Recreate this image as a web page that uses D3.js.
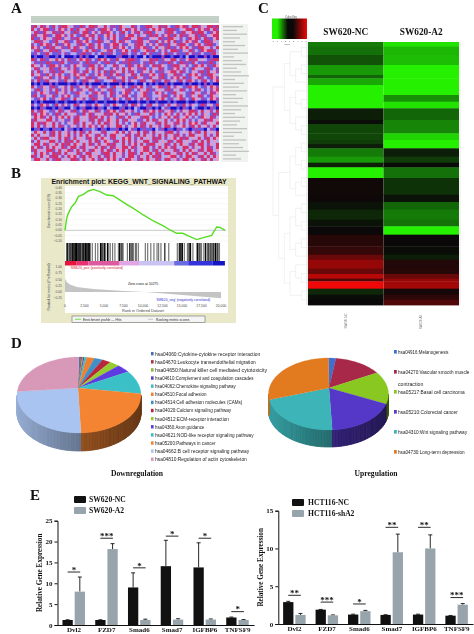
<!DOCTYPE html>
<html><head><meta charset="utf-8">
<script src="https://cdn.jsdelivr.net/npm/d3@7"></script>
<style>html,body{margin:0;padding:0;background:#fff}svg{display:block;filter:blur(.45px)}</style>
</head><body><svg id="c" width="474" height="634"></svg>
<script>
// ---------- Panel A: expression grid, read by eye (r red, p pink, m magenta, l lavender, b blue, d deep blue)
const heatRows = [
"mrlrmpbrlmrrplmbrmlrrmplrlmmbrpllrmlbmrrplrmrlbmrprmlrrmplrrmr",
"rlmprrbmlrpmlrbrlprmmlbrrpmlbrlrmprlmbmlrprlmrrmblprrmlrpmrlrm",
"lrmbrplrmmrlpbrmlrrbpmlrmrpblmrlbpmrlmrrbpllmrrlbmrlprmrrlbmpr",
"mrlprmblrrpmlrlbmrpmrlmbprlrlmbprrlmlpbrmrlmprbrlrmmplrbrmlprr",
"rbmlrplmrrbplmmrlbrpmlrblmprlbmrmplrrbmlplrmbrrplmlbrprmlrmbpr",
"lrrmplbmrlprmblrmprlbmrmlpbrlrmplbmrrlpmbrlmprlrbmlrpmrlbrrmpl",
"mlbrprmlrbmprllmrbprmlrlbmprrlmbplmrrlbpmlrmbrlpmrrlbmprlmrrbl",
"rpmlbrmrlpmbrlrmplbrmlrpbmlrmprlblmrprmblrlpmrbmlrprlmbrrplmlr",
"lmrbplrmrbpllmrmbprlrmblpmrlbmprlmrblprmrlbpmlrrmbplrmlbrprrml",
"bmlbmrlbbmlmbllbmrbmlblrbmmlbbrmlbmlbrlmbbmlrbmlmbbrlmbmlbbmrl",
"dbddbmddbdldddbdmdbddlddbdddbmddbdbddldbdddmddbddbdlddbddmdbdd",
"rmlrmbplrpmlrbmlrprmlbrprlmbrlpmrrmblplrmrbmplrrlmbprmrlplbmrr",
"lmbmbrmbbmrlbmbmlbrmbmlbmrbmlbmmrbmblmbrmlbmbrmlbrmmbrlbmbmrbl",
"rplmlbrrpmlbmlrplmbrrlmpbllrmplbrmlrpmblrmrplbmrrlpmlbrprlmbrp",
"lrmlplrmbrlpmlrbllmprlrmllbpmlrlrplmmrlbplrmlbmprlmlbrpllmrblm",
"mlrbplmrbmrllprmlmrlbpmlrbrmplrlmrlbmplrlbmmlprrlrmlbplmrbrlpm",
"rlpmbrlmprlbmlrpmrlbmlrpmbrlrmbplrmlrbmprlmrbplrmmlbrprlmbrrpl",
"lbrmplrblmprmlbrlpmrbmlplrbmlprlmbrplmbrlpmrblmprlrbmlprmlbrpm",
"mlrbmrlplmbrlpmlbrmplrmbllprmbrlmplbrmlprbmlrmlpbrlmrpblmrlbpr",
"dbdbddmdbdddbddbdmdbdddbdbdddmdbddbddldbdbddmdbdddbdbddbdmdbdd",
"rlbmplmrblpmlrbmplrlmbprmlbrlpmlbrmprlbmlprmbrlmplbmrprlbmlrpm",
"lmrbplmlrbpmlrlbmplrmlbplmrbllpmrblmplrbmlplmrbplrmlbpmrlblmpr",
"bmlrplmbrlpmlbmrplblmrpmblrmlbprmlblprmblrpmlbmrlplbmrlpbmlrmp",
"mrlbmplrblmprlbmlplrmbplmlrblpmrlbmlprmbllpmrblmprlbmplrmlbrpl",
"lbmprlbmlprmblrlpmlbrmplbmlrpblmrlbpmlrblmprlbmlprmlbrplmblrpm",
"dbdbddddbddbdddbdbdddbddbdddbddbdddbddbddbdddbdbdddbddbdddbddb",
"mlbrpmlbrlmpblrmlpbmlrplbmlrplbmlrmpblmrlpbmlrlpmbrlmplbrmlpbr",
"dbdmbddbdmbddlbdbmddbdmbdlbddbmdbdlbddmbdbdlmbddbdmbdlbddbdmbd",
"rlmrplbmlrmlpmrblrmplrmlbrprlmrlpmlblrmprlrmlprblmplrrmlrlpmlr",
"mrlrpmlbrmlrlplmbrlrmlplrmrlrlpmlbmrlplrmlblrpmlrlmprlrlmplbrm",
"lrprmlrlmprlrlmrlplrmrlrlmplbrmlrlplmrrlblmplrlrmlprlmlbrplrml",
"mrlplrrlmlpbmlrrlplmrlrmlrplrlmrlplbmlrlrmplrlmlrprlmlbplrmrlp",
"rlrmrplrlmlbplrmlrlpmlrlrmplrlmlbprlmrlplmrlrlpmrlmlrprlmrlplr",
"rlrlmplrlrmlbplmlrlrpmlrlmplrrlmlprlrmlrlpmlrrlmlprlmrlrlpmlrl",
"dbmdbbdmbbdlmbdbdmbblbdmbdbbmdbdlmbdbmbbdlbmdbbdmblbdbmbbdlmbd",
"lrplrlmrlrlpmlrlrmlrlplmrllprlrlmplrlrmlrlplmrrlmlplrlmrlrlplr",
"rlrlplmrlrlprlmlrlrplmrlmlrrlplmrlmrlrlpmlrlrlpmrlmlrrlplrlmlr",
"lrlmrrlplrlrmlrlplmrlrlrplmrllrprlmlrlplrmrlmlprlrmrlplrlmrlrp",
"mlrlplrrlmlrmrlrlplrlrmlrplmrlrlrlmplrrlmrlplrmlrrlplmrlrlrlpl",
"lrrlrmplrlrmrlrplrlrmlrlprmrllrlmprlrlmrrlplrmlrlrplmrlrrlmplr",
"rlrmlrlrplrmlrrlmrlplrlrmlrmplrrlrmlprrlmlrlrpmrllrrlmplrlrmlr",
"mrlplrrmlrlprmlrlrlmrplrlrmlrprlrlmlprrlmrlrlplrmlrlrplmrlrrlp",
"lrlrpmlrmrlrlplrmlrrlplmrrlrlpmlrrmlrlprlrmlrrlpmrlrlrmplrlrml",
"rmlrlpmrrlmlrprlmrlrplrlmrlrplmlrrlmplrlrmrllprrlmlrrplmrlrlrp",
"lrrplrlmrrlplrrmlrlprlmrlrprlmlrrplmrlrplrmlrrlpmlrrlrlpmrlrlp"];
const heatColors = {r:"#d82f66",p:"#e79ac2",m:"#a545b2",l:"#b2aaf2",b:"#6a5ae4",d:"#1408c4"};
const geneLabelWidths = [20,14,24,17,12,22,15,25,11,19,23,14,18,26,12,21,16,24,13,20,15,25,18,12,22,17,14,24,19,11,23,16,20,26,13,18];

// ---------- Panel B: GSEA enrichment plot
const esRank = [0,214,427,855,1282,1710,2350,2992,3633,4488,5342,6197,7052,7907,8762,10044,11326,12608,13463,14318,15087,15814,16882,17737,18805,19446,19874,20515];
const esValue = [0,.1125,.159,.222,.253,.316,.3375,.369,.384,.3625,.331,.325,.284,.244,.206,.144,.0875,.041,.003,-.028,-.028,-.053,-.0875,-.069,-.047,.031,.028,0];
const hitsDark = [300,520,760,980,1150,1330,1480,1530,1780,1950,2200,2400,2620,2800,2980,3120,4550,4750,5050,5450,7000,7300,8300,8600,9100,12800,14650,14850,15050,15900,16100,17000,17300,18000,18350,18700,19000,19300,19600];
const hitsLight = [200,640,880,1060,1240,1420,1620,1700,1860,2050,2300,2500,2720,2900,3050,3250,3500,3900,4200,4650,4900,5200,5600,5800,6100,6400,6850,7150,7450,8000,8450,8800,9400,10300,10600,11000,11400,11800,12000,12300,13300,14400,14750,14950,15300,15700,16000,16400,16900,17150,17500,17800,18200,18500,18850,19150,19450,19800];
const bandEnd = [1500,3000,7000,9500,14000,15800,18900,20500];
const bandColor = ["#e8143c","#e83272","#dd5aa0","#e2a6e6","#c9c4f2","#6a6ae2","#3434da","#1616c8"];
const metricRank = [0,214,641,1496,3633,7052,10275,15087,20000];
const metricValue = [.55,.4,.3,.2,.12,.05,0,-.12,-.25];
const esTicks = [.4,.35,.3,.25,.2,.15,.1,.05,0,-.05,-.1];
const metricTicks = [1,.75,.5,.25,0,-.25];
const rankTicks = [0,2500,5000,7500,10000,12500,15000,17500,20000];

// ---------- Panel C: clustered fold-change heat map (row counts per cluster and values)
const clusterRows = [14,25,30,30,10,20,30,20,20,35,12,28,20,12,13,25,18,14,32,50,22,23,30,20,25,35,25,15,27,16,14,8,22,18,15,16];
const valuesNC = [-.55,-.5,-.35,-.7,-.45,-.75,-1,-1,-1,-.1,-.03,-.3,-.3,-.25,-.1,-.55,-.7,-.12,-1,.03,.02,-.05,-.15,-.05,0,.12,.18,.4,.6,.4,.75,.3,1,-.15,-.02,0];
const valuesA2 = [-.95,-.8,-.82,-1,-1,-1,-1,-.65,-.95,-.45,-.6,-.6,-.9,-1,-1,-.1,-.25,-.02,-.5,-.2,-.05,-.45,-.55,-.5,-1,0,-.02,-.1,.1,.12,.4,.6,.65,.05,.15,.3];
const heatColumns = ["SW620-NC","SW620-A2"];
const keyTicks = ["-8","-6","-4","-2","0","2","4","6","8"];
const dendro = [[[["a","b"],[["c","d"],"e"]],[["f",["g","h"]],["i",["j","k"]]]],[[[["l","m"],["n","o"]],[["p","q"],"r"]],[[[["s","t"],["u","v"]],[["w","x"],"y"]],[["z",["aa","ab"]],["ac","ad"]]]]];

// ---------- Panel D: pathway shares
const downLabels = ["hsa04060:Cytokine-cytokine receptor interaction","hsa04670:Leukocyte transendothelial migration","hsa04650:Natural killer cell mediated cytotoxicity","hsa04610:Complement and coagulation cascades","hsa04062:Chemokine signaling pathway","hsa04510:Focal adhesion","hsa04514:Cell adhesion molecules (CAMs)","hsa04020:Calcium signaling pathway","hsa04512:ECM-receptor interaction","hsa04360:Axon guidance","hsa04621:NOD-like receptor signaling pathway","hsa05200:Pathways in cancer","hsa04662:B cell receptor signaling pathway","hsa04810:Regulation of actin cytoskeleton"];
const downValues = [.5,.3,.3,.3,.6,2,2.2,2.2,2.6,3.5,10,25,27,23.5];
const downColors = ["#4a70b4","#a8343c","#8ab83a","#5a3cc0","#3cbcc8","#ee8030","#3f8fc8","#b8283c","#96cc30","#5e3ce0","#3cc0c8","#f58432","#a9c4f0","#d899b9"];
const upLabels = ["hsa04916:Melanogenesis","hsa04270:Vascular smooth muscle","contraction","hsa05217:Basal cell carcinoma","hsa05210:Colorectal cancer","hsa04310:Wnt signaling pathway","hsa04730:Long-term depression"];
const upValues = [2,13,14.5,19.5,23.5,27.5];
const upColors = ["#3f6fd0","#a8284a","#88c820","#5538c8","#3cb4b8","#e27a20"];

// ---------- Panel E: qPCR bars
const genes = ["Dvl2","FZD7","Smad6","Smad7","IGFBP6","TNFSF9"];
const swNC = [1.2,1.2,9,14.1,13.8,1.8];
const swA2 = [8,18.2,1.2,1.3,1.3,1.2];
const swNCerr = [.05,.05,3.5,6.2,5.9,.1];
const swA2err = [3.5,1.3,.2,.2,.15,.1];
const swSig = ["*","***","*","*","*","*"];
const swSigLevel = [12.7,20.8,13.7,21.3,20.8,3.2];
const hctNC = [2.9,1.9,1.25,1.2,1.25,1.1];
const hctA2 = [1.2,1.15,1.7,9.5,10,2.55];
const hctNCerr = [.1,.03,.05,.03,.05,.03];
const hctA2err = [.2,.05,.1,2.4,1.8,.15];
const hctSig = ["**","***","*","**","**","***"];
const hctSigLevel = [3.8,2.9,2.65,12.8,12.8,3.5];

const SERIF = "'Liberation Serif',serif", SANS = "'Liberation Sans',sans-serif";
const svg = d3.select("#c");
const defs = svg.append("defs");
defs.append("filter").attr("id","soft").attr("x","-2%").attr("y","-2%").attr("width","104%").attr("height","104%")
  .append("feGaussianBlur").attr("stdDeviation",.45);
const txt = (g,x,y,s,size,o={}) => g.append("text").attr("x",x).attr("y",y).text(s)
  .attr("font-family",o.family||SANS).attr("font-size",size).attr("font-weight",o.weight||"normal")
  .attr("fill",o.fill||"#111").attr("text-anchor",o.anchor||"start")
  .attr("transform",o.rot?`rotate(${o.rot} ${x} ${y})`:null);

[["A",11,13],["B",11,178],["C",258,13],["D",11,348],["E",30,500]].forEach(d=>
  txt(svg,d[1],d[2],d[0],15,{family:SERIF,weight:"bold"}));

// ===== A =====
(function(){
  const g = svg.append("g");
  g.append("rect").attr("x",31).attr("y",16).attr("width",188).attr("height",7).attr("fill","#c3d0c6");
  const xs = d3.scaleBand().domain(d3.range(62)).range([31,219]);
  const ys = d3.scaleBand().domain(d3.range(heatRows.length)).range([25,161]);
  const clip = defs.append("clipPath").attr("id","aclip");
  clip.append("rect").attr("x",31).attr("y",25).attr("width",188).attr("height",136);
  const h = g.append("g").attr("clip-path","url(#aclip)").append("g").attr("filter","url(#soft)");
  h.append("rect").attr("x",29).attr("y",23).attr("width",192).attr("height",140).attr("fill","#a070d0");
  heatRows.forEach((row,i)=>{
    h.selectAll(null).data(row.split("")).join("rect")
      .attr("x",(d,j)=>xs(j)).attr("y",ys(i)).attr("width",xs.bandwidth()+.3).attr("height",ys.bandwidth()+.3)
      .attr("fill",d=>heatColors[d]);
  });
  g.append("rect").attr("x",221).attr("y",24).attr("width",27).attr("height",138).attr("fill","#f0f3f0");
  const yl = d3.scaleBand().domain(d3.range(geneLabelWidths.length)).range([25,161]);
  g.selectAll(null).data(geneLabelWidths).join("rect")
    .attr("x",223).attr("y",(d,i)=>yl(i)+1).attr("width",d=>d).attr("height",1.3).attr("fill","#c0c4c0");
})();

// ===== B =====
(function(){
  const g = svg.append("g");
  g.append("rect").attr("x",41).attr("y",178).attr("width",195).attr("height",145).attr("fill","#e9e9c9");
  g.append("rect").attr("x",65).attr("y",186).attr("width",163).attr("height",127).attr("fill","#fff");
  txt(g,139,184.3,"Enrichment plot: KEGG_WNT_SIGNALING_PATHWAY",6.9,{weight:"bold",anchor:"middle"});
  const x = d3.scaleLinear().domain([0,20000]).range([65,221]);
  const yE = d3.scaleLinear().domain([0,.4]).range([230.3,187.7]);
  const yM = d3.scaleLinear().domain([0,1]).range([292,267.3]);
  esTicks.forEach(t=>{
    g.append("line").attr("x1",65).attr("x2",228).attr("y1",yE(t)).attr("y2",yE(t)).attr("stroke","#f0f0f0").attr("stroke-width",.5);
    txt(g,62,yE(t)+1,d3.format(".2f")(t),3.4,{anchor:"end",fill:"#555"});
  });
  metricTicks.forEach(t=>txt(g,62,yM(t)+1,d3.format(".2f")(t),3.4,{anchor:"end",fill:"#555"}));
  g.append("line").attr("x1",65).attr("x2",226).attr("y1",yE(0)).attr("y2",yE(0)).attr("stroke","#aaa").attr("stroke-width",.6);
  g.selectAll(null).data(hitsLight).join("line").attr("x1",d=>x(d)).attr("x2",d=>x(d)).attr("y1",243).attr("y2",261).attr("stroke","#777").attr("stroke-width",1.2);
  g.selectAll(null).data(hitsDark).join("line").attr("x1",d=>x(d)).attr("x2",d=>x(d)).attr("y1",243).attr("y2",261).attr("stroke","#000").attr("stroke-width",1.1);
  bandEnd.forEach((e,i)=>{
    const s = i?bandEnd[i-1]:0;
    g.append("rect").attr("x",x(s)).attr("y",261).attr("width",x(e)-x(s)).attr("height",4.5).attr("fill",bandColor[i]);
  });
  g.append("path").attr("fill","#c4c4c4").attr("d",
    d3.area().x((d,i)=>x(metricRank[i])).y0(yM(0)).y1(d=>yM(d))(metricValue));
  g.append("path").attr("fill","none").attr("stroke","#55dd22").attr("stroke-width",1.4).attr("d",
    d3.line().x((d,i)=>x(esRank[i])).y(d=>yE(d))(esValue));
  txt(g,70,269,"'SW620_pos' (positively correlated)",3.4,{fill:"#d02030"});
  txt(g,143,285,"Zero cross at 10275",3.4,{anchor:"middle"});
  txt(g,183,301,"'SW620_neg' (negatively correlated)",3.4,{anchor:"middle",fill:"#3030d0"});
  rankTicks.forEach(t=>txt(g,x(t),307,d3.format(",")(t),3.4,{anchor:"middle",fill:"#444"}));
  txt(g,143,312,"Rank in Ordered Dataset",3.8,{anchor:"middle",fill:"#444"});
  txt(g,50,211,"Enrichment score (ES)",3.4,{anchor:"middle",rot:-90,fill:"#444"});
  txt(g,50,287,"Ranked list metric (PreRanked)",3.4,{anchor:"middle",rot:-90,fill:"#444"});
  g.append("rect").attr("x",72).attr("y",316).attr("width",133).attr("height",6.5).attr("fill","#f4f4f4").attr("stroke","#555").attr("stroke-width",.5);
  g.append("line").attr("x1",75).attr("x2",81).attr("y1",319.3).attr("y2",319.3).attr("stroke","#55dd22").attr("stroke-width",.8);
  txt(g,83,320.5,"Enrichment profile — Hits",3.4,{fill:"#333"});
  g.append("line").attr("x1",148).attr("x2",153).attr("y1",319.3).attr("y2",319.3).attr("stroke","#bbb").attr("stroke-width",.8);
  txt(g,156,320.5,"Ranking metric scores",3.4,{fill:"#333"});
})();

// ===== C =====
(function(){
  const g = svg.append("g");
  const colour = d3.scaleLinear().domain([-1,-.7,0,.5,1]).range(["#24f000","#189a08","#0a0808","#800808","#f00808"]);
  const total = d3.sum(clusterRows);
  const y = d3.scaleLinear().domain([0,total]).range([42,305]);
  const x = d3.scaleBand().domain(heatColumns).range([308,459]);
  const starts = d3.cumsum([0].concat(clusterRows));
  [valuesNC,valuesA2].forEach((vals,c)=>{
    g.selectAll(null).data(vals).join("rect")
      .attr("x",x(heatColumns[c])).attr("width",x.bandwidth())
      .attr("y",(d,i)=>y(starts[i])).attr("height",(d,i)=>y(starts[i+1])-y(starts[i])+.4)
      .attr("fill",d=>colour(d));
    txt(svg,x(heatColumns[c])+x.bandwidth()/2,35,heatColumns[c],9.3,{family:SERIF,weight:"bold",anchor:"middle"});
    txt(svg,x(heatColumns[c])+x.bandwidth()/2+1,c?322:321,c?"SW620-A2":"SW620-NC",3,{anchor:"middle",rot:-90,fill:"#777"});
  });
  // key
  const grad = defs.append("linearGradient").attr("id","key");
  [["0%","#24f000"],["15%","#24f000"],["45%","#0a0808"],["60%","#0a0808"],["100%","#f00808"]].forEach(s=>
    grad.append("stop").attr("offset",s[0]).attr("stop-color",s[1]));
  g.append("rect").attr("x",272).attr("y",18.5).attr("width",35).attr("height",20.5).attr("fill","url(#key)");
  txt(g,291,17.5,"Color Key",2.6,{anchor:"middle",fill:"#444"});
  const kx = d3.scalePoint().domain(keyTicks).range([273,306]);
  keyTicks.forEach(t=>txt(g,kx(t),41.5,t,2.2,{anchor:"middle",fill:"#555"}));
  txt(g,287,44.5,"Value",2.4,{anchor:"middle",fill:"#555"});
  // dendrogram
  const root = d3.hierarchy(dendro, d=>Array.isArray(d)?d:null);
  d3.cluster().size([261,34]).separation(()=>1)(root);
  g.append("g").attr("transform","translate(273,43)").selectAll("path").data(root.links()).join("path")
    .attr("fill","none").attr("stroke","#e2e2e2").attr("stroke-width",.5)
    .attr("d",l=>`M${l.source.y},${l.source.x}V${l.target.x}H${l.target.y}`);
  g.append("line").attr("x1",307).attr("x2",307).attr("y1",42).attr("y2",305).attr("stroke","#e4e4e4").attr("stroke-width",1.2);
  g.append("line").attr("x1",460).attr("x2",460).attr("y1",42).attr("y2",305).attr("stroke","#e8e8e8").attr("stroke-width",1);
})();

// ===== D =====
function pie3d(vals,cols,cx,cy,rx,ry,ax,ay,depth){
  const g = svg.append("g");
  const arcs = d3.pie().sort(null)(vals);
  const P = t=>[cx+rx*Math.sin(t),cy-ry*Math.cos(t)];
  const steps = 120;
  d3.range(steps).forEach(i=>{
    const t0 = Math.PI/2+Math.PI*i/steps, t1 = Math.PI/2+Math.PI*(i+1)/steps;
    const a = arcs.find(s=>t0>=s.startAngle && t0<s.endAngle) || arcs[arcs.length-1];
    const k = (Math.sin(t0)+1)/2;
    const p0=P(t0), p1=P(t1);
    const c = d3.color(cols[a.index]).darker(.35+2.1*k).formatHex();
    g.append("path").attr("fill",c).attr("stroke",c).attr("stroke-width",.8)
      .attr("d",d3.line()([p0,p1,[p1[0],p1[1]+depth],[p0[0],p0[1]+depth]])+"Z");
  });
  g.selectAll(null).data(arcs).join("path")
    .attr("fill",a=>cols[a.index]).attr("stroke",a=>cols[a.index]).attr("stroke-width",.2)
    .attr("d",a=>{
      const n = Math.max(2,Math.ceil((a.endAngle-a.startAngle)*30));
      const pts = d3.range(n+1).map(i=>P(a.startAngle+(a.endAngle-a.startAngle)*i/n));
      return d3.line()([[ax,ay],...pts])+"Z";
    });
}
pie3d(downValues,downColors,79,395,62,38,78,388,18);
pie3d(upValues,upColors,328.5,394,60,36,329,388,17);
downLabels.forEach((s,i)=>{
  const y = 354+i*8.12;
  svg.append("rect").attr("x",151).attr("y",y-2).attr("width",2.6).attr("height",3.4).attr("fill",downColors[i]);
  txt(svg,155,y+1.6,s,4.9,{fill:"#222"}).attr("textLength",s.length*2.24).attr("lengthAdjust","spacingAndGlyphs");
});
const upY = [352,372,384,392,412,432,452];
const upIdx = [0,1,null,2,3,4,5];
upLabels.forEach((s,i)=>{
  if(upIdx[i]!==null) svg.append("rect").attr("x",394).attr("y",upY[i]-2).attr("width",2.8).attr("height",3.6).attr("fill",upColors[upIdx[i]]);
  txt(svg,398,upY[i]+1.8,s,4.7,{fill:"#222"}).attr("textLength",s.length*2.3).attr("lengthAdjust","spacingAndGlyphs");
});
txt(svg,137,476,"Downregulation",7.6,{family:SERIF,weight:"bold",anchor:"middle"});
txt(svg,376,476,"Upregulation",7.6,{family:SERIF,weight:"bold",anchor:"middle"});

// ===== E =====
function bars(o){
  const g = svg.append("g");
  const x = d3.scaleBand().domain(genes).range(o.xr);
  const y = d3.scaleLinear().domain([0,o.max]).range(o.yr);
  const W = 10.3, off = 11.4;
  const C = ["#111","#98a4ac"];
  [[o.nc,o.ncE],[o.a2,o.a2E]].forEach((s,k)=>{
    const bx = (d,i)=>x(genes[i])+x.bandwidth()/2+(k?.8:-off);
    g.selectAll(null).data(s[0]).join("line")
      .attr("x1",(d,i)=>bx(d,i)+W/2).attr("x2",(d,i)=>bx(d,i)+W/2)
      .attr("y1",d=>y(d)).attr("y2",(d,i)=>y(d+s[1][i])).attr("stroke","#111").attr("stroke-width",.9);
    g.selectAll(null).data(s[0]).join("line")
      .attr("x1",(d,i)=>bx(d,i)+W/2-2).attr("x2",(d,i)=>bx(d,i)+W/2+2)
      .attr("y1",(d,i)=>y(d+s[1][i])).attr("y2",(d,i)=>y(d+s[1][i])).attr("stroke","#111").attr("stroke-width",.9);
    g.selectAll(null).data(s[0]).join("rect")
      .attr("x",bx).attr("width",W).attr("y",d=>y(d)).attr("height",d=>y(0)-y(d)).attr("fill",C[k]);
  });
  const ax = g.append("g").attr("transform",`translate(${o.xr[0]},0)`)
    .call(d3.axisLeft(y).tickValues(o.ticks).tickSize(3).tickFormat(d3.format("d")));
  ax.selectAll("path,line").attr("stroke","#111").attr("stroke-width",1);
  ax.selectAll("text").attr("font-family",SERIF).attr("font-weight","bold").attr("font-size",7).attr("fill","#111").attr("dx",1);
  const ax2 = g.append("g").attr("transform",`translate(0,${y(0)})`).call(d3.axisBottom(x).tickSize(0));
  ax2.selectAll("path").attr("stroke","#111").attr("stroke-width",1);
  ax2.selectAll("text").attr("font-family",SERIF).attr("font-weight","bold").attr("font-size",7).attr("fill","#111").attr("dy",".6em");
  txt(g,o.labelX,(o.yr[0]+o.yr[1])/2,"Relative Gene Expression",7.2,{family:SERIF,weight:"bold",anchor:"middle",rot:-90});
  genes.forEach((c,i)=>{
    const cx = x(c)+x.bandwidth()/2, ly = y(o.lv[i]);
    g.append("line").attr("x1",cx-6.3).attr("x2",cx+6.3).attr("y1",ly).attr("y2",ly).attr("stroke","#111").attr("stroke-width",.9);
    txt(g,cx,ly+.8,o.sig[i],9,{family:SERIF,weight:"bold",anchor:"middle"});
  });
  o.legend.forEach((s,i)=>{
    g.append("rect").attr("x",o.lx).attr("y",o.ly[i]).attr("width",12).attr("height",7).attr("rx",1).attr("fill",C[i]);
    txt(g,o.lx+o.ltx,o.ly[i]+6,s,7.6,{family:SERIF,weight:"bold"});
  });
}
bars({xr:[57.5,254],yr:[625,520.7],max:25,ticks:[0,5,10,15,20,25],nc:swNC,a2:swA2,ncE:swNCerr,a2E:swA2err,sig:swSig,lv:swSigLevel,labelX:42,legend:["SW620-NC","SW620-A2"],lx:74,ly:[496,507],ltx:15});
bars({xr:[278.3,473],yr:[624,510.7],max:15,ticks:[0,5,10,15],nc:hctNC,a2:hctA2,ncE:hctNCerr,a2E:hctA2err,sig:hctSig,lv:hctSigLevel,labelX:263,legend:["HCT116-NC","HCT116-shA2"],lx:292,ly:[499,510],ltx:16});
</script></body></html>
